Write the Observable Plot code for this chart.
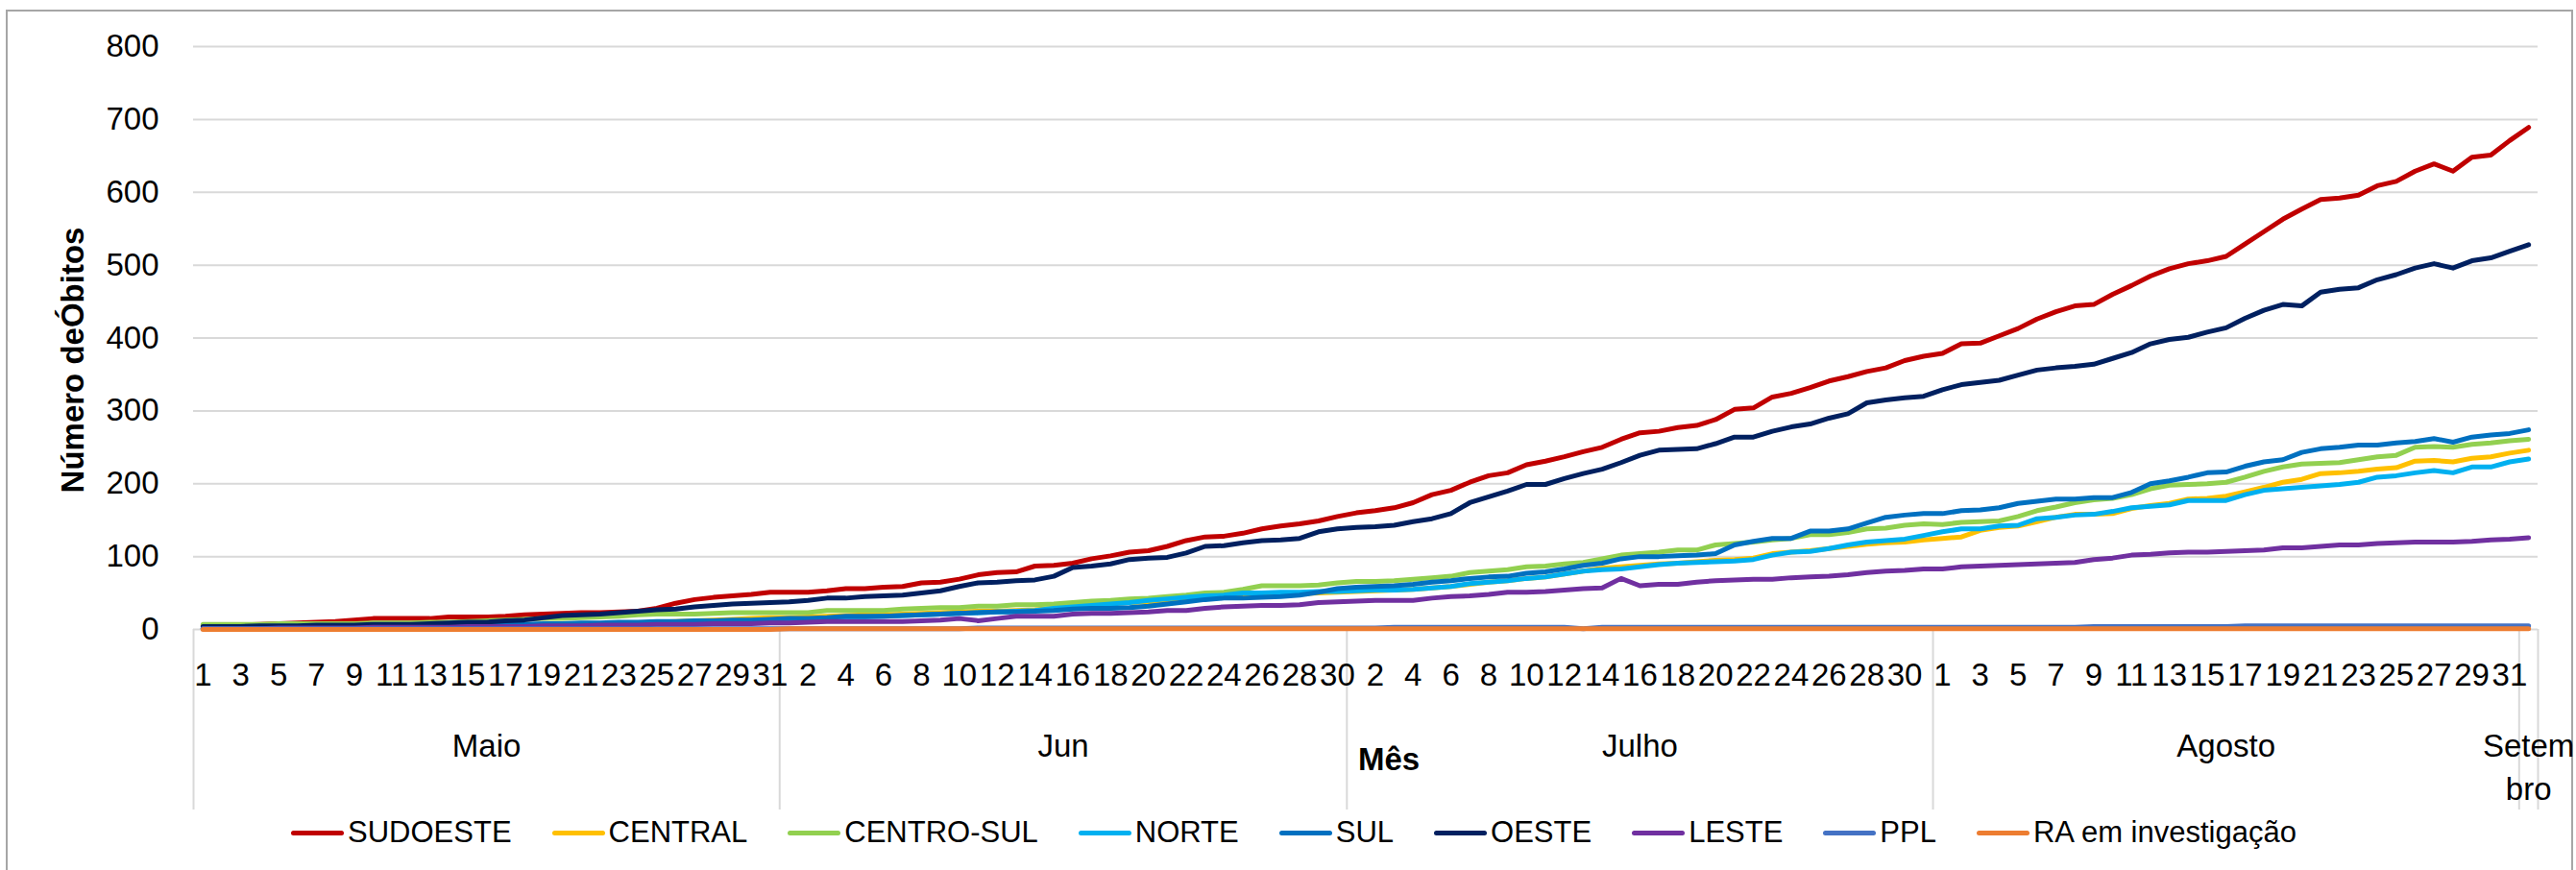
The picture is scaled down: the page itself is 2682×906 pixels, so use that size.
<!DOCTYPE html>
<html><head><meta charset="utf-8">
<script src="https://cdn.jsdelivr.net/npm/d3@7"></script>
<script src="https://cdn.jsdelivr.net/npm/@observablehq/plot@0.6"></script>
<style>
html,body{margin:0;padding:0;background:#fff;}
body{width:2682px;height:906px;overflow:hidden;position:relative;font-family:"Liberation Sans",Arial,sans-serif;}
#frame{position:absolute;left:6px;top:10px;width:2673px;height:930px;border:2px solid #a6a6a6;box-sizing:border-box;}
#chart{position:absolute;left:0;top:0;}
#legend{position:absolute;left:12px;right:0;top:845px;height:44px;display:flex;justify-content:center;align-items:center;gap:42px;font-size:31px;color:#000;}
.item{display:flex;align-items:center;gap:4px;white-space:nowrap;}
.sw{width:55px;height:5px;border-radius:3px;}
</style></head><body>
<div id="frame"></div><div id="chart"></div><div id="legend"></div>
<script>
// Categories
const monthNames = ["Maio", "Jun", "Julho", "Agosto", "Setembro"];
const monthLengths = [31, 30, 31, 31, 1];
const yTicks = [0, 100, 200, 300, 400, 500, 600, 700, 800];
const yLabel = "Número deÓbitos";
const xLabel = "Mês";

const seriesNames = ["SUDOESTE", "CENTRAL", "CENTRO-SUL", "NORTE", "SUL", "OESTE", "LESTE", "PPL", "RA em investigação"];
const seriesColors = ["#C00000", "#FFC000", "#92D050", "#00B0F0", "#0070C0", "#002060", "#7030A0", "#4472C4", "#ED7D31"];

// Series values (May 1 .. Sep 1)
const SUDOESTE = [
  5,6,6,7,8,9,10,11,13,15,15,15,15,17,17,17,18,20,21,22,23,23,24,25,29,36,41,44,46,48,51,
  51,51,53,56,56,58,59,64,65,69,75,78,79,87,88,91,97,101,106,108,114,122,127,128,132,138,142,145,149,155,
  160,163,167,174,185,191,202,211,215,226,231,237,244,250,261,270,272,277,280,288,302,304,319,324,332,341,347,354,359,369,375,
  379,392,393,403,413,426,436,444,446,460,472,485,495,502,506,512,529,546,563,577,590,592,596,609,615,629,639,629,648,651,671,
  689];
const CENTRAL = [
  1,1,1,2,2,2,3,3,3,3,4,4,4,4,5,5,5,6,6,7,7,8,8,9,10,11,12,13,14,15,16,
  16,17,18,19,20,20,21,22,23,24,25,25,26,27,29,32,34,36,37,38,40,42,44,45,46,47,48,49,50,51,
  52,53,54,55,57,59,62,65,67,70,72,76,80,84,86,88,90,91,93,95,96,98,104,106,108,111,114,117,119,120,123,
  125,127,136,140,142,148,154,158,158,159,166,170,173,179,180,183,189,195,202,206,214,215,217,220,222,231,232,230,235,237,242,
  246];
const CENTRO_SUL = [
  7,7,7,7,8,8,8,8,8,9,9,9,10,10,11,12,13,14,15,15,16,17,18,20,21,21,21,22,23,23,23,
  23,23,26,26,26,26,28,29,30,30,32,32,34,34,35,37,39,40,42,43,45,47,50,51,55,60,60,60,61,64,
  66,66,67,69,71,73,78,80,82,86,87,90,92,97,102,104,106,109,109,116,118,120,123,125,130,130,133,138,139,143,145,
  144,147,148,149,155,163,168,174,178,180,185,193,198,199,200,202,209,217,223,227,228,229,233,237,239,250,251,250,254,256,259,
  261];
const NORTE = [
  1,1,1,1,2,2,2,2,3,3,3,3,4,4,4,5,5,5,6,6,7,7,8,8,9,9,10,10,11,12,13,
  13,14,15,16,17,18,19,20,21,22,23,24,25,26,29,31,33,35,37,40,42,44,46,47,50,50,51,51,52,52,
  53,54,54,55,57,59,63,65,67,70,72,76,80,82,83,86,89,91,92,93,94,96,102,106,107,111,116,120,122,124,129,
  134,138,138,142,143,152,154,157,158,162,167,169,171,177,177,177,185,191,193,195,197,199,202,209,211,215,218,215,223,223,230,
  234];
const SUL = [
  2,2,3,3,3,3,4,4,4,4,5,5,5,5,6,6,7,7,8,8,9,9,10,10,11,11,12,12,13,13,14,
  15,15,16,18,18,18,19,20,21,22,23,24,24,25,26,28,29,29,30,32,35,38,41,43,43,44,45,47,51,56,
  58,59,60,62,65,67,70,72,73,77,79,83,88,91,97,100,100,101,102,104,116,121,125,125,135,135,138,146,154,157,159,
  159,163,164,167,173,176,179,179,181,181,188,200,204,209,215,216,224,230,233,243,248,250,253,253,256,258,262,257,264,267,269,
  274];
const OESTE = [
  4,4,4,5,5,5,6,6,6,7,7,7,8,9,10,10,12,13,16,19,20,21,23,25,27,28,31,33,35,36,37,
  38,40,43,43,45,46,47,50,53,59,64,65,67,68,73,85,87,90,96,98,99,105,114,115,119,122,123,125,134,138,
  140,141,143,148,152,159,174,182,190,199,199,207,214,220,229,239,246,247,248,255,264,264,272,278,282,290,296,311,315,318,320,
  329,336,339,342,349,356,359,361,364,372,380,392,398,401,408,414,427,438,446,444,463,467,469,480,487,496,502,496,506,510,519,
  528];
const LESTE = [
  1,1,1,1,2,2,2,2,2,3,3,3,3,3,4,4,4,4,5,5,5,6,6,6,7,7,7,8,8,8,9,
  9,10,11,11,11,11,11,12,13,15,12,15,18,18,18,21,22,22,23,24,26,26,29,31,32,33,33,34,37,38,
  39,40,40,40,43,45,46,48,51,51,52,54,56,57,70,60,62,62,65,67,68,69,69,71,72,73,75,78,80,81,83,
  83,86,87,88,89,90,91,92,96,98,102,103,105,106,106,107,108,109,112,112,114,116,116,118,119,120,120,120,121,123,124,
  126];
const PPL = [
  1,1,1,1,1,1,1,1,1,1,1,1,1,1,1,1,1,1,1,1,1,1,1,1,1,1,1,1,1,1,1,
  1,1,1,1,1,1,1,1,1,1,2,2,2,2,2,2,2,2,2,2,2,2,2,2,2,2,2,2,2,2,
  2,2,3,3,3,3,3,3,3,3,3,3,1,3,3,3,3,3,3,3,3,3,3,3,3,3,3,3,3,3,3,
  3,3,3,3,3,3,3,3,4,4,4,4,4,4,4,4,5,5,5,5,5,5,5,5,5,5,5,5,5,5,5,
  5];
const RA = [
  0,0,0,0,0,0,0,0,0,0,0,0,0,0,0,0,0,0,0,0,0,0,0,0,0,0,0,0,0,0,0,
  1,1,1,1,1,1,1,1,1,1,1,1,1,1,1,1,1,1,1,1,1,1,1,1,1,1,1,1,1,1,
  1,1,1,1,1,1,1,1,1,1,1,1,1,1,1,1,1,1,1,1,1,1,1,1,1,1,1,1,1,1,1,
  1,1,1,1,1,1,1,1,1,1,1,1,1,1,1,1,1,1,1,1,1,1,1,1,1,1,1,1,1,1,1,
  1];
const seriesValues = [SUDOESTE, CENTRAL, CENTRO_SUL, NORTE, SUL, OESTE, LESTE, PPL, RA];

// Build category table
const months = [];
const days = [];
let start = 0;
monthNames.forEach((name, m) => {
  months.push({name, start, len: monthLengths[m]});
  for (let d = 1; d <= monthLengths[m]; d++) days.push({i: start + d - 1, day: d});
  start += monthLengths[m];
});
const nCat = start;
const boundaries = months.map(m => m.start).concat([nCat]);
const labelledDays = days.filter(d => d.i % 2 === 0);

const rows = seriesNames.flatMap((s, k) => seriesValues[k].map((v, i) => ({i, v, s})));

const FONT = "'Liberation Sans', Arial, sans-serif";
const FS = 33;

const chart = Plot.plot({
  width: 2682, height: 845,
  marginLeft: 201, marginRight: 40, marginTop: 48, marginBottom: 190,
  style: {fontFamily: FONT, fontSize: FS + "px", color: "#000", background: "transparent", overflow: "visible"},
  x: {domain: [0, nCat], axis: null},
  y: {domain: [0, 800], axis: null},
  color: {type: "ordinal", domain: seriesNames, range: seriesColors},
  marks: [
    Plot.gridY(yTicks, {stroke: "#d9d9d9", strokeOpacity: 1, strokeWidth: 2}),
    Plot.axisY(yTicks, {tickSize: 0, tickPadding: 36, fontSize: FS, label: null, tickFormat: d => String(d)}),
    Plot.axisX(boundaries, {tickSize: 188, stroke: "#d9d9d9", strokeOpacity: 1, strokeWidth: 2, label: null, tickFormat: () => ""}),
    Plot.text(labelledDays, {x: d => d.i + 0.5, text: d => String(d.day), frameAnchor: "bottom", dy: 48, lineAnchor: "middle", fontSize: FS, fill: "#000"}),
    Plot.text(months, {x: d => d.start + d.len / 2, text: d => d.len < 3 ? d.name.slice(0, 5) + "\n" + d.name.slice(5) : d.name,
      frameAnchor: "bottom", dy: 100, lineAnchor: "top", lineHeight: 1.38, fontSize: FS, fill: "#000"}),
    Plot.text([xLabel], {frameAnchor: "bottom", dx: 24, dy: 136, lineAnchor: "middle", fontWeight: "bold", fontSize: FS, fill: "#000"}),
    Plot.text([yLabel], {frameAnchor: "left", dx: -125, dy: 23, rotate: -90, textAnchor: "middle", lineAnchor: "middle", fontWeight: "bold", fontSize: FS, fill: "#000"}),
    Plot.line(rows, {x: d => d.i + 0.5, y: "v", z: "s", stroke: "s", strokeWidth: 5, strokeLinejoin: "round", strokeLinecap: "round"})
  ]
});
document.getElementById("chart").appendChild(chart);

const legend = document.getElementById("legend");
seriesNames.forEach((name, k) => {
  const item = document.createElement("div");
  item.className = "item";
  const sw = document.createElement("span");
  sw.className = "sw";
  sw.style.background = seriesColors[k];
  const t = document.createElement("span");
  t.textContent = name;
  item.appendChild(sw); item.appendChild(t);
  legend.appendChild(item);
});
</script></body></html>
